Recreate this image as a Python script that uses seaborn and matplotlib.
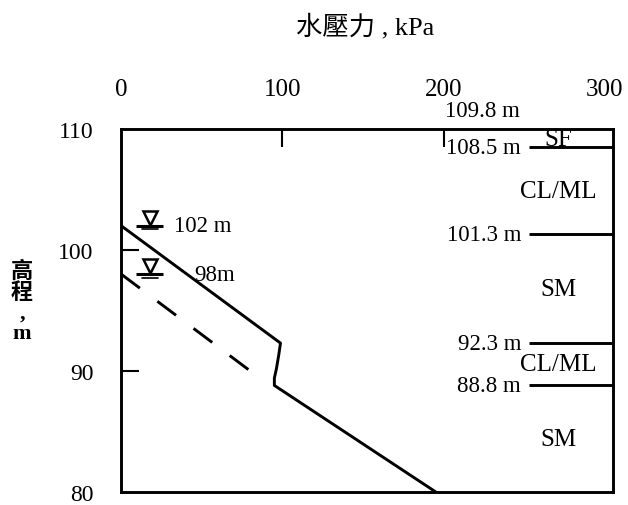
import matplotlib
matplotlib.use("Agg")
import matplotlib.pyplot as plt
import numpy as np
import pandas as pd
import seaborn as sns

# Pore-water pressure profile (solid) and the lower water-table profile (dashed)
solid_pressure = [0, 98.8, 97.7, 96.3, 95.0, 95.0, 195]
solid_elev = [102, 92.3, 91.3, 90.2, 89.4, 88.8, 80]
dashed_pressure = [0, 81]
dashed_elev = [98, 89.9]

# Groundwater levels
wt_levels = [102, 98]
wt_labels = ["102 m", "98m"]
wt_label_x = [33, 45]

# Soil layer boundaries (top to bottom) and layer names
layer_bounds = [109.8, 108.5, 101.3, 92.3, 88.8, 80]
layer_names = ["SF", "CL/ML", "SM", "CL/ML", "SM"]

x_ticks = [0, 100, 200, 300]
y_ticks = [80, 90, 100, 110]

sns.set_theme(style="white")
plt.rcParams["font.family"] = ["Liberation Serif", "Noto Sans CJK TC", "DejaVu Sans"]
plt.rcParams["text.color"] = "black"

FS = 16.5
fig = plt.figure(figsize=(6.28, 5.06), dpi=100)
ax = fig.add_axes([0.193, 0.026, 0.783, 0.717])

solid = pd.DataFrame({"p": solid_pressure, "z": solid_elev})
dashed = pd.DataFrame({"p": dashed_pressure, "z": dashed_elev})
sns.lineplot(data=solid, x="p", y="z", sort=False, estimator=None,
             color="black", lw=2.1, ax=ax)
sns.lineplot(data=dashed, x="p", y="z", sort=False, estimator=None,
             color="black", lw=2.1, linestyle=(0, (8, 7.5)), ax=ax)

# Water-table symbols
for z, lab, lx in zip(wt_levels, wt_labels, wt_label_x):
    ax.plot([9, 26], [z, z], color="black", lw=2.2, solid_capstyle="butt")
    ax.plot([13, 23], [z - 0.3, z - 0.3], color="black", lw=1.2)
    ax.plot([18], [z + 0.65], marker="v", ms=10, mfc="white", mec="black", mew=1.8)
    ax.text(lx, z, lab, ha="left", va="center", fontsize=FS)

# Soil layer boundaries and names
xmax = 305
for b in layer_bounds[1:-1]:
    ax.plot([253, xmax], [b, b], color="black", lw=2.1, solid_capstyle="butt")
    ax.text(248, b, f"{b} m", ha="right", va="center", fontsize=FS)
ax.text(224, 111.5, f"{layer_bounds[0]} m", ha="center", va="center",
        fontsize=FS, clip_on=False)
for top, bot, name in zip(layer_bounds[:-1], layer_bounds[1:], layer_names):
    ax.text(271, (top + bot) / 2, name, ha="center", va="center", fontsize=18)

ax.set_xlim(0, xmax)
ax.set_ylim(80, 110)
ax.set_xlabel("")
ax.set_ylabel("")
ax.xaxis.tick_top()
ax.set_xticks(x_ticks)
ax.set_yticks(y_ticks)
ax.tick_params(axis="x", direction="in", length=13, width=1.5, pad=21,
               labelsize=18, colors="black", top=True, bottom=False)
ax.tick_params(axis="y", direction="in", length=13, width=1.5, pad=20,
               labelsize=17, colors="black", left=True)
for i, t in enumerate(ax.xaxis.get_major_ticks()):
    if x_ticks[i] in (0, 300):
        t.tick2line.set_visible(False)
        t.tick1line.set_visible(False)
for i, t in enumerate(ax.yaxis.get_major_ticks()):
    if y_ticks[i] in (80, 110):
        t.tick1line.set_visible(False)

for s in ax.spines.values():
    s.set_color("black")
    s.set_linewidth(2.1)
ax.grid(False)

fig.text(365 / 628, 1 - 27 / 506, "水壓力 , kPa", ha="center", va="center",
         fontsize=19)
# Vertical axis title, one character per line
fig.text(22 / 628, 1 - 303 / 506, "\n".join("高程,m"), ha="center", va="center",
         fontsize=16, fontweight="bold", linespacing=1.0,
         multialignment="center")

fig.savefig("out.png", dpi=100, facecolor="white")
